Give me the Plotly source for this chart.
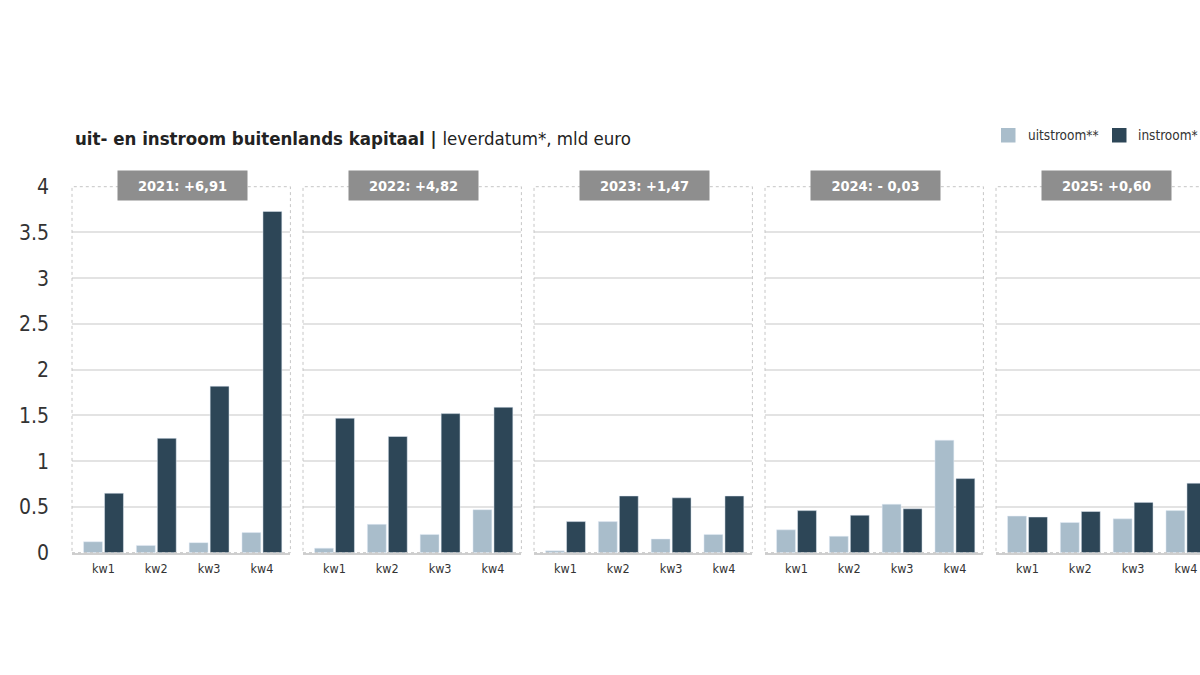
import plotly.graph_objects as go

# ---- data ----
quarters = ["kw1", "kw2", "kw3", "kw4"]
years = ["2021", "2022", "2023", "2024", "2025"]
header_labels = ["2021: +6,91", "2022: +4,82", "2023: +1,47", "2024: - 0,03", "2025: +0,60"]
uitstroom_2021 = [0.12, 0.08, 0.11, 0.22]
instroom_2021 = [0.65, 1.25, 1.82, 3.73]
uitstroom_2022 = [0.05, 0.31, 0.20, 0.47]
instroom_2022 = [1.47, 1.27, 1.52, 1.59]
uitstroom_2023 = [0.02, 0.34, 0.15, 0.20]
instroom_2023 = [0.34, 0.62, 0.60, 0.62]
uitstroom_2024 = [0.25, 0.18, 0.53, 1.23]
instroom_2024 = [0.46, 0.41, 0.48, 0.81]
uitstroom_2025 = [0.40, 0.33, 0.37, 0.46]
instroom_2025 = [0.39, 0.45, 0.55, 0.76]
y_ticks = [0, 0.5, 1, 1.5, 2, 2.5, 3, 3.5, 4]
y_tick_labels = ["0", "0.5", "1", "1.5", "2", "2.5", "3", "3.5", "4"]
legend_names = ["uitstroom**", "instroom*"]

uit = [uitstroom_2021, uitstroom_2022, uitstroom_2023, uitstroom_2024, uitstroom_2025]
inn = [instroom_2021, instroom_2022, instroom_2023, instroom_2024, instroom_2025]

# ---- style ----
W, H = 1200, 675
LIGHT = "#a9bdcb"
DARK = "#2d4657"
FONT = "Liberation Sans Narrow, DejaVu Sans Condensed, Open Sans, sans-serif"
TXT = "#333333"

def px(x):
    return x / W

def py(y):
    return 1 - y / H

y0_px, y4_px = 552.7, 186.7
step = 52.8
kw1c = [103.5 + 231 * i for i in range(5)]

fig = go.Figure()
shapes = []
annotations = []
layout_axes = {}

for i in range(5):
    sfx = "" if i == 0 else str(i + 1)
    L = kw1c[i] - 31.5
    R = kw1c[i] + 3 * step + 28.5
    r0 = -31.5 / step
    Rc = min(R, W)
    r1 = 3 + (Rc - (kw1c[i] + 3 * step)) / step
    fig.add_trace(go.Bar(x=quarters, y=uit[i], name=legend_names[0], marker_color=LIGHT,
                         xaxis="x" + sfx, yaxis="y" + sfx, showlegend=False,
                         offsetgroup="u"))
    fig.add_trace(go.Bar(x=quarters, y=inn[i], name=legend_names[1], marker_color=DARK,
                         xaxis="x" + sfx, yaxis="y" + sfx, showlegend=False,
                         offsetgroup="i"))
    layout_axes["xaxis" + sfx] = dict(
        domain=[px(L), px(Rc)], anchor="y" + sfx, type="category",
        categoryorder="array", categoryarray=quarters,
        range=[r0, r1], showgrid=False, showline=True, linecolor="#cfcfcf",
        linewidth=1.5, ticks="", tickfont=dict(family=FONT, size=12.5, color=TXT),
        ticklabelstandoff=4, fixedrange=True,
    )
    ya = dict(
        domain=[py(y0_px), py(y4_px)], anchor="x" + sfx, range=[0, 4],
        tickvals=y_ticks, ticktext=y_tick_labels, showgrid=True,
        gridcolor="#e3e3e3", gridwidth=1.5, zeroline=False,
        showticklabels=(i == 0), tickfont=dict(family=FONT, size=21, color=TXT),
        ticklabelstandoff=22, fixedrange=True,
    )
    if i > 0:
        ya["matches"] = "y"
    layout_axes["yaxis" + sfx] = ya
    # dotted panel border
    shapes.append(dict(type="rect", xref="paper", yref="paper",
                       x0=px(L), x1=px(R), y0=py(y0_px), y1=py(y4_px),
                       line=dict(color="#c6c6c6", width=1, dash="dot"),
                       fillcolor="rgba(0,0,0,0)", layer="above"))
    # header box
    annotations.append(dict(
        x=px(kw1c[i] + 79.2), y=py(185.5), xref="paper", yref="paper",
        text="<b>" + header_labels[i] + "</b>", showarrow=False,
        width=129, height=29, bgcolor="#8e8e8e", borderpad=0,
        font=dict(family=FONT, size=14.5, color="white"),
        xanchor="center", yanchor="middle", align="center", valign="middle",
    ))

# title
annotations.append(dict(
    x=px(73), y=py(138), xref="paper", yref="paper", xanchor="left", yanchor="middle",
    showarrow=False,
    text="<b>uit- en instroom buitenlands kapitaal | </b>leverdatum*, mld euro",
    font=dict(family=FONT, size=18.5, color="#222222"),
))

# legend (manual)
leg_sq = [(1001, LIGHT), (1112, DARK)]
leg_tx = [1026, 1136]
for (sx, col), tx, name in zip(leg_sq, leg_tx, legend_names):
    shapes.append(dict(type="rect", xref="paper", yref="paper",
                       x0=px(sx), x1=px(sx + 14.5), y0=py(142.5), y1=py(128),
                       line=dict(width=0), fillcolor=col))
    annotations.append(dict(
        x=px(tx), y=py(135), xref="paper", yref="paper", xanchor="left", yanchor="middle",
        showarrow=False, text=name, font=dict(family=FONT, size=13.5, color=TXT),
    ))

fig.update_layout(
    width=W, height=H,
    margin=dict(l=0, r=0, t=0, b=0, autoexpand=False),
    paper_bgcolor="white", plot_bgcolor="white",
    barmode="group", bargap=0.205, bargroupgap=0.1,
    shapes=shapes, annotations=annotations, showlegend=False,
    **layout_axes,
)

fig.write_html("out.html", config={"displayModeBar": False},
               post_script="document.body.style.margin='0';document.body.style.overflow='hidden';")
